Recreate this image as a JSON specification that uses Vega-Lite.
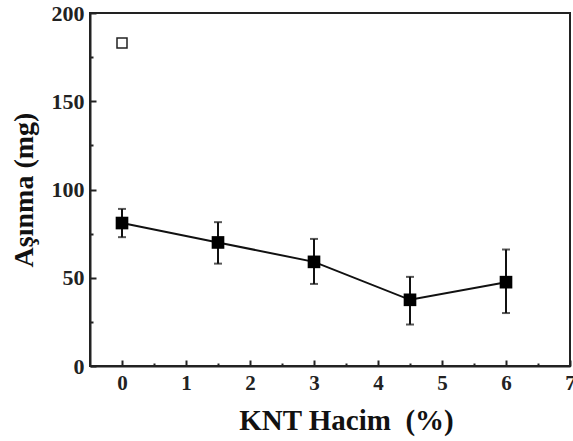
{
  "$schema": "https://vega.github.io/schema/vega-lite/v6.json",
  "width": 480,
  "height": 353,
  "autosize": {"type": "none"},
  "padding": {"left": 90, "top": 13, "right": 3, "bottom": 75},
  "background": "white",
  "config": {
    "view": {"stroke": "#222", "strokeWidth": 2},
    "font": "Liberation Serif"
  },
  "datasets": {
    "main": [
      {"x": 0, "y": 81, "lo": 73, "hi": 89},
      {"x": 1.5, "y": 70, "lo": 58, "hi": 81.5},
      {"x": 3, "y": 59, "lo": 46.5, "hi": 72},
      {"x": 4.5, "y": 37.5, "lo": 23.5, "hi": 50.5},
      {"x": 6, "y": 47.5, "lo": 30, "hi": 66}
    ],
    "open": [{"x": 0, "y": 183}]
  },
  "resolve": {"axis": {"x": "independent", "y": "independent"}},
  "layer": [
    {
      "data": {"name": "open"},
      "mark": {"type": "point", "shape": "square", "filled": false, "color": "#222", "size": 100, "strokeWidth": 1.5, "opacity": 1},
      "encoding": {
        "x": {
          "field": "x", "type": "quantitative",
          "scale": {"domain": [-0.5, 7], "nice": false, "zero": false},
          "axis": {
            "orient": "bottom",
            "title": null, "labels": false, "domain": false, "grid": false,
            "values": [0.5, 1.5, 2.5, 3.5, 4.5, 5.5, 6.5],
            "tickColor": "#222", "tickWidth": 2, "tickSize": -3
          }
        },
        "y": {
          "field": "y", "type": "quantitative",
          "scale": {"domain": [0, 200], "nice": false},
          "axis": {
            "orient": "left",
            "title": null, "labels": false, "domain": false, "grid": false,
            "values": [25, 75, 125, 175],
            "tickColor": "#222", "tickWidth": 2, "tickSize": -3
          }
        }
      }
    },
    {
      "data": {"name": "main"},
      "mark": {"type": "line", "color": "#111", "strokeWidth": 2},
      "encoding": {
        "x": {
          "field": "x", "type": "quantitative",
          "scale": {"domain": [-0.5, 7], "nice": false, "zero": false},
          "axis": {
            "orient": "bottom",
            "title": "KNT Hacim\u00a0\u00a0(%)",
            "titleX": 256,
            "values": [0, 1, 2, 3, 4, 5, 6, 7],
            "format": "d",
            "grid": false,
            "domainColor": "#222", "domainWidth": 2,
            "tickColor": "#222", "tickWidth": 2, "tickSize": -6,
            "labelFont": "Liberation Serif", "labelFontWeight": "bold", "labelFontSize": 21, "labelColor": "#222",
            "labelPadding": 12, "labelFlush": false, "labelOverlap": false,
            "titleFont": "Liberation Serif", "titleFontWeight": "bold", "titleFontSize": 29, "titleColor": "#111",
            "titlePadding": 13
          }
        },
        "y": {
          "field": "y", "type": "quantitative",
          "scale": {"domain": [0, 200], "nice": false},
          "axis": {
            "orient": "left",
            "title": "Aşınma (mg)",
            "values": [0, 50, 100, 150, 200],
            "grid": false,
            "domainColor": "#222", "domainWidth": 2,
            "tickColor": "#222", "tickWidth": 2, "tickSize": -6,
            "labelFont": "Liberation Serif", "labelFontWeight": "bold", "labelFontSize": 22, "labelColor": "#222",
            "labelPadding": 12, "labelFlush": false, "labelOverlap": false,
            "titleFont": "Liberation Serif", "titleFontWeight": "bold", "titleFontSize": 28, "titleColor": "#111",
            "titlePadding": 13
          }
        }
      }
    },
    {
      "data": {"name": "main"},
      "mark": {"type": "rule", "color": "#111", "strokeWidth": 2},
      "encoding": {
        "x": {"field": "x", "type": "quantitative", "axis": null},
        "y": {"field": "lo", "type": "quantitative", "axis": null},
        "y2": {"field": "hi"}
      }
    },
    {
      "data": {"name": "main"},
      "mark": {"type": "tick", "orient": "horizontal", "color": "#111", "size": 8, "thickness": 2},
      "encoding": {
        "x": {"field": "x", "type": "quantitative", "axis": null},
        "y": {"field": "lo", "type": "quantitative", "axis": null}
      }
    },
    {
      "data": {"name": "main"},
      "mark": {"type": "tick", "orient": "horizontal", "color": "#111", "size": 8, "thickness": 2},
      "encoding": {
        "x": {"field": "x", "type": "quantitative", "axis": null},
        "y": {"field": "hi", "type": "quantitative", "axis": null}
      }
    },
    {
      "data": {"name": "main"},
      "mark": {"type": "point", "shape": "square", "filled": true, "color": "#000", "size": 160, "opacity": 1},
      "encoding": {
        "x": {"field": "x", "type": "quantitative", "axis": null},
        "y": {"field": "y", "type": "quantitative", "axis": null}
      }
    }
  ]
}
